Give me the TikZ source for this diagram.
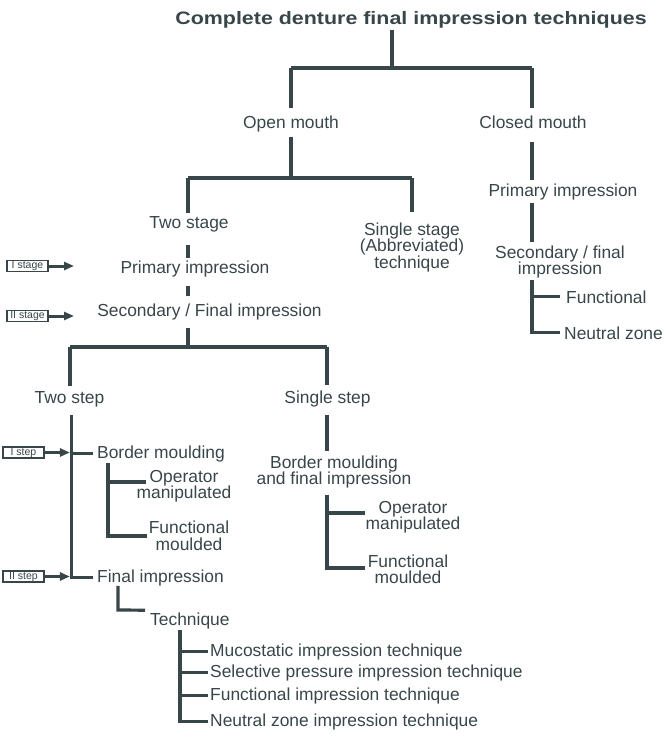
\documentclass[tikz,border=0pt]{standalone}
\usepackage{fontspec}
\usepackage{graphicx}
\setmainfont{Liberation Sans}
\usetikzlibrary{arrows.meta}
\definecolor{ink}{RGB}{56,70,74}
\begin{document}
\begin{tikzpicture}[x=1pt,y=-1pt,
  txt/.style={text=ink, inner sep=0pt, font=\fontsize{17.4}{16.5}\selectfont, align=center},
  ttl/.style={text=ink, inner sep=0pt, font=\bfseries\fontsize{18}{18}\selectfont},
  ln/.style={draw=ink, line width=3.2pt},
  tagbox/.style={draw=ink, text=ink, line width=1.1pt, inner sep=0pt, minimum width=41pt, minimum height=11pt, fill=white, font=\fontsize{10.5}{10.5}\selectfont},
  tagarrow/.style={draw=ink, line width=3pt, -{Triangle[length=10pt,width=8pt]}},
]
\useasboundingbox (0,0) rectangle (666,739);

% ---- nodes ----
\node[ttl, anchor=base] (title) at (411,24) {\scalebox{1.19}[1]{Complete denture final impression techniques}};
\node[txt, anchor=base] (om) at (291,128) {Open mouth};
\node[txt, anchor=base] (cm) at (533,128) {Closed mouth};
\node[txt, anchor=base] (ts) at (189,228) {Two stage};
\node[txt] (ss) at (412,247) {Single stage\\(Abbreviated)\\technique};
\node[txt, anchor=base] (pi) at (195,273) {Primary impression};
\node[txt, anchor=base] (si) at (209.5,316) {Secondary / Final impression};
\node[txt, anchor=base] (cpi) at (563,196) {Primary impression};
\node[txt] (csf) at (560,262) {Secondary / final\\impression};
\node[txt, anchor=base west] (fn) at (566,303) {Functional};
\node[txt, anchor=base west] (nz) at (564,339) {Neutral zone};
\node[txt, anchor=base] (tws) at (69.5,403) {Two step};
\node[txt, anchor=base] (sgs) at (327.5,403) {Single step};
\node[txt, anchor=base west] (bm) at (97,458) {Border moulding};
\node[txt] (om1) at (184,486) {Operator\\manipulated};
\node[txt] (fm1) at (189,536) {Functional\\moulded};
\node[txt, anchor=base west] (fi) at (97,582) {Final impression};
\node[txt, anchor=base west] (tq) at (150,625) {Technique};
\node[txt, anchor=base west] (t1) at (210,656) {Mucostatic impression technique};
\node[txt, anchor=base west] (t2) at (210,677) {Selective pressure impression technique};
\node[txt, anchor=base west] (t3) at (210,700) {Functional impression technique};
\node[txt, anchor=base west] (t4) at (210,726) {Neutral zone impression technique};
\node[txt] (bmf) at (334,472) {Border moulding\\and final impression};
\node[txt] (om2) at (413,517) {Operator\\manipulated};
\node[txt] (fm2) at (408,569.5) {Functional\\moulded};

\node[tagbox] (tg1) at (27.5,266) {I stage};
\node[tagbox] (tg2) at (27.5,316) {II stage};
\node[tagbox] (tg3) at (23.5,452.5) {I step};
\node[tagbox] (tg4) at (23.5,576.5) {II step};

% ---- junctions ----
\coordinate (j0) at (392,68);
\coordinate (jL) at (291,68);
\coordinate (jR) at (532,68);
\coordinate (jOM) at (291,178);
\coordinate (jTS) at (188,178);
\coordinate (jSS) at (412,178);
\coordinate (jSI) at (188,347);
\coordinate (jTW) at (70,347);
\coordinate (jTD) at (71.5,347);
\coordinate (jSG) at (327,347);
\coordinate (kB1) at (108,482);
\coordinate (kB2) at (108,536);
\coordinate (eB1) at (146,482);
\coordinate (eB2) at (147,536);
\coordinate (kF) at (118,610);
\coordinate (kT) at (180,630);
\coordinate (kS1) at (327,513);
\coordinate (kS2) at (327,568);
\coordinate (eS1) at (365,513);
\coordinate (eS2) at (365,568);
\coordinate (aS1) at (74,266);
\coordinate (aS2) at (74,316);

% ---- connectors ----
\draw[ln] ([yshift=-2pt]title.south -| j0) -- (j0);
\draw[ln] (jL) -- (jR);
\draw[ln] (jL) -- ([yshift=7pt]om.north);
\draw[ln] (jR) -- ([yshift=7pt]cm.north -| jR);
\draw[ln] ([yshift=-5pt]om.south) -- (jOM);
\draw[ln] (jTS) -- (jSS);
\draw[ln] (jTS) -- ([yshift=3pt]ts.north -| jTS);
\draw[ln] (jSS) -- ([yshift=10pt]ss.north);
\draw[ln] ([yshift=-13pt]ts.south -| jTS) -- ([yshift=2pt]pi.north -| jTS);
\draw[ln] ([yshift=-9pt]pi.south -| jTS) -- ([yshift=7pt]si.north -| jTS);
\draw[ln] ([yshift=-8pt]si.south -| jTS) -- (jSI);
\draw[ln] (jTW) -- (jSG);
\draw[ln] (jTW) -- ([yshift=5pt]tws.north -| jTW);
\draw[ln] (jSG) -- ([yshift=5pt]sgs.north -| jSG);
% closed mouth branch
\draw[ln] ([yshift=-14pt]cm.south -| jR) -- ([yshift=3pt]cpi.north -| jR);
\draw[ln] ([yshift=-3pt]cpi.south -| jR) -- ([yshift=3.5pt]csf.north -| jR);
\draw[ln] ([yshift=-1pt]csf.south -| jR) -- (jR |- nz.west) -- ([xshift=-4pt]nz.west);
\draw[ln] (jR |- fn.west) -- ([xshift=-6pt]fn.west);
% two step
\draw[ln] ([yshift=-8.5pt]tws.south -| jTD) -- (jTD |- fi.west) -- ([xshift=-4pt]fi.west);
\draw[ln] (jTD |- bm.west) -- ([xshift=-4pt]bm.west);
\draw[ln] ([yshift=-1.5pt]bm.south -| kB1) -- (kB2) -- (eB2);
\draw[ln] (kB1) -- (eB1);
\draw[ln] (fi.south -| kF) -- (kF) -- ([xshift=-5pt,yshift=2pt]tq.north west);
\draw[ln] (kT) -- (kT |- t4.west) -- ([xshift=-2pt]t4.west);
\draw[ln] (kT |- t1.west) -- ([xshift=-2pt]t1.west);
\draw[ln] (kT |- t2.west) -- ([xshift=-2pt]t2.west);
\draw[ln] (kT |- t3.west) -- ([xshift=-2pt]t3.west);
% single step
\draw[ln] ([yshift=-8.5pt]sgs.south -| jSG) -- ([yshift=4pt]bmf.north -| jSG);
\draw[ln] ([yshift=-6pt]bmf.south -| jSG) -- (kS2) -- (eS2);
\draw[ln] (kS1) -- (eS1);

% ---- tag arrows ----
\draw[tagarrow] (tg1.east) -- (aS1);
\draw[tagarrow] (tg2.east) -- (aS2);
\draw[tagarrow] (tg3.east) -- ([xshift=-1.6pt]jTD |- tg3.east);
\draw[tagarrow] (tg4.east) -- ([xshift=-1.6pt]jTD |- tg4.east);
\end{tikzpicture}
\end{document}
